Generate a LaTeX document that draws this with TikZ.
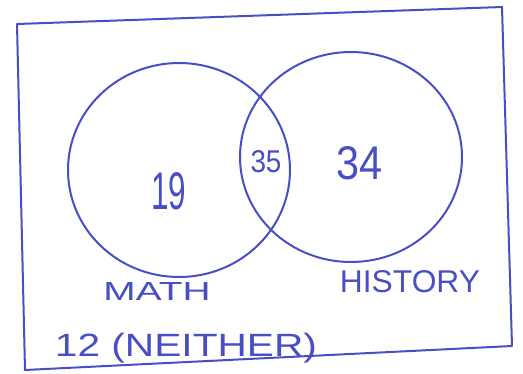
\documentclass[tikz,border=0pt]{standalone}
\usepackage{fontspec}
\setmainfont{Liberation Sans}
\usetikzlibrary{shapes.geometric}
\definecolor{ink}{RGB}{72,78,196}
\tikzset{
  ink/.style={draw=ink, line width=2pt, line join=round, line cap=round},
  setc/.style={ellipse, ink, inner sep=0pt},
  lbl/.style={text=ink, inner sep=0pt, anchor=center}
}
\begin{document}
\begin{tikzpicture}[x=1pt,y=-1pt]
\useasboundingbox (0,0) rectangle (523,373);
% frame
\coordinate (tl) at (17,24);
\coordinate (tr) at (502,7);
\coordinate (br) at (512,346);
\coordinate (bl) at (25,370);
\draw[ink] (tl) -- (tr) -- (br) -- (bl) -- cycle;
% sets
\node[setc, minimum width=222pt, minimum height=214pt] (math) at (179,170) {};
\node[setc, minimum width=222pt, minimum height=210pt] (hist) at (351,157) {};
% numbers
\node[lbl] (onlymath) at (169,191) {\resizebox{35pt}{37pt}{19}};
\node[lbl] (both) at (266,162) {\resizebox{31pt}{22pt}{35}};
\node[lbl] (onlyhist) at (360,163) {\resizebox{46pt}{33pt}{34}};
% labels
\node[lbl] (mathlbl) at (157,291) {\resizebox{107pt}{18pt}{MATH}};
\node[lbl] (histlbl) at (410,282) {\resizebox{140pt}{22pt}{HISTORY}};
\node[lbl] (neither) at (186,348) {\resizebox*{262pt}{30pt}{12 (NEITHER)}};
\end{tikzpicture}
\end{document}
